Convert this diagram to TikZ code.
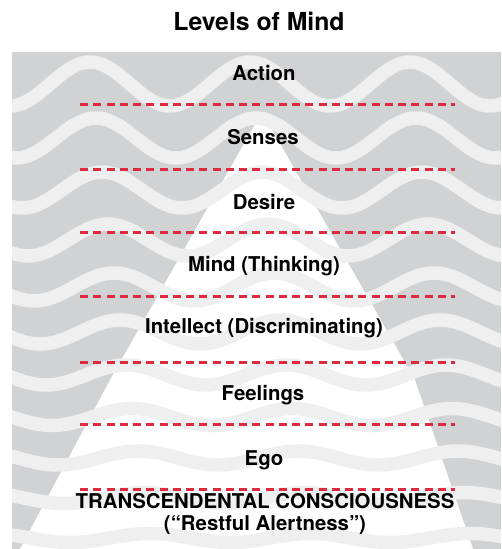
\documentclass[tikz,border=0pt]{standalone}
\usepackage{fontspec}
\setmainfont{TeX Gyre Heros}
\usepackage{xcolor}
\usepackage{tikz}
\usetikzlibrary{positioning}
\definecolor{bggray}{HTML}{D1D2D4}
\definecolor{wavegray}{HTML}{EFEFEF}
\definecolor{dashred}{HTML}{DC2A3E}
\tikzstyle{level} = [font=\fontsize{11.6}{13}\selectfont\bfseries, inner sep=0pt, anchor=base]
\tikzstyle{divider} = [dashred, line width=0.6mm, dash pattern=on 1.6mm off 1.05mm]
\tikzstyle{wave} = [wavegray, line width=2.7mm]

\begin{document}
\begin{tikzpicture}[x=0.2mm, y=-0.2mm]
    \useasboundingbox (0,0) rectangle (501,549);

    % Background
    \fill[bggray] (12,52) rectangle (501,549);

    % Pyramid
    \fill[white] (262,112) -- (415,380) -- (473,549) -- (20,549) -- (110,380) -- cycle;

    % Waves (calmer further down)
    \begin{scope}
        \clip (12,52) rectangle (501,549);
        \foreach \cy/\amp [count=\k from 0] in {84/22, 138/20, 190/18, 240/16, 287/14, 332/12, 375/10, 417/8.5, 458/7, 498/5.5, 538/4.5} {
            \draw[wave] plot[domain=0:510, samples=90, smooth] (\x, {\cy-\amp*cos((\x-90-6*\k)/160*360)});
        }
    \end{scope}

    % Dividers
    \foreach \y in {104,169,232,296,362,424,489}
        \draw[divider] (80,\y) -- (455,\y);

    % Title
    \node[font=\fontsize{14.1}{16}\selectfont\bfseries, inner sep=0pt, anchor=base] (title) at (259,30) {Levels of Mind};

    % Levels
    \node[level] (action) at (264,80) {Action};
    \node[level] (senses) at (263,144) {Senses};
    \node[level] (desire) at (264,209.5) {Desire};
    \node[level] (mind) at (264,271) {Mind (Thinking)};
    \node[level] (intellect) at (264,333) {Intellect (Discriminating)};
    \node[level] (feelings) at (263,400) {Feelings};
    \node[level] (ego) at (264,465) {Ego};
    \node[level] (tc) at (265,508.5) {TRANSCENDENTAL CONSCIOUSNESS};
    \node[level] (restful) at (265,530) {(“Restful Alertness”)};
\end{tikzpicture}
\end{document}
